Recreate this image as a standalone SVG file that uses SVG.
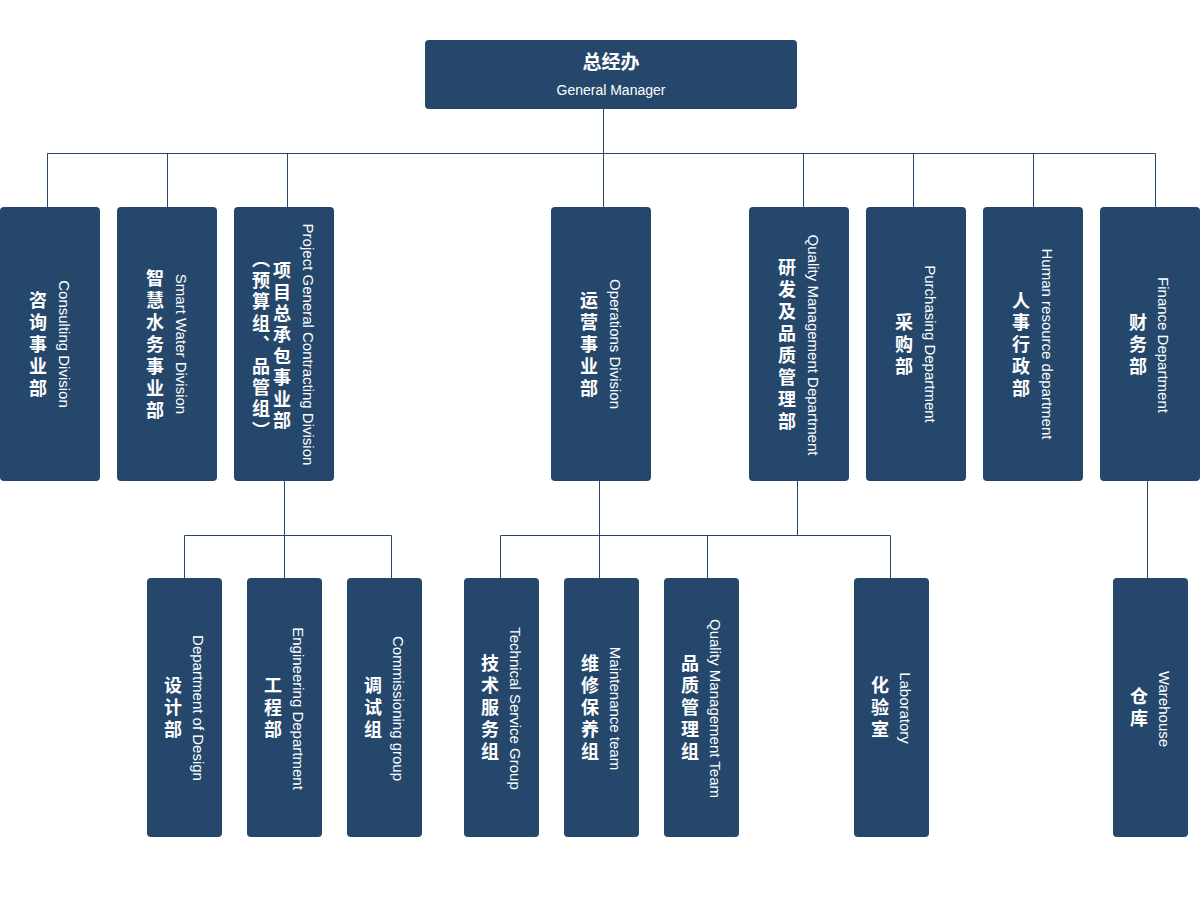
<svg xmlns="http://www.w3.org/2000/svg" width="1200" height="918" viewBox="0 0 1200 918">
<style>
.box{fill:#25476c}
.ln{stroke:#25476c;stroke-width:1;fill:none}
.zh{font-family:"Noto Sans CJK SC","Noto Sans CJK TC",sans-serif;font-weight:bold;font-size:18px;fill:#fff;writing-mode:vertical-rl;text-anchor:middle;letter-spacing:4px}
.zh2{letter-spacing:3.4px}
.en{font-family:"Liberation Sans",Arial,sans-serif;font-size:15px;fill:#fff;text-anchor:middle}
.top1{font-family:"Noto Sans CJK SC",sans-serif;font-weight:bold;font-size:19px;fill:#fff;text-anchor:middle}
.top2{font-family:"Liberation Sans",Arial,sans-serif;font-size:14px;fill:#fff;text-anchor:middle}
</style>
<rect width="1200" height="918" fill="#fff"/>
<g id="connectors" class="ln">
<path d="M603.5,109 V153.5 M47.5,153.5 H1155.5 M47.5,153.5 V207 M167.5,153.5 V207 M287.5,153.5 V207 M603.5,153.5 V207 M803.5,153.5 V207 M913.5,153.5 V207 M1033.5,153.5 V207 M1155.5,153.5 V207"/>
<path d="M284.5,481 V535.5 M184.5,535.5 H391.5 M184.5,535.5 V578 M284.5,535.5 V578 M391.5,535.5 V578"/>
<path d="M599.5,481 V535.5 M797.5,481 V535.5 M500.5,535.5 H890.5 M500.5,535.5 V578 M599.5,535.5 V578 M707.5,535.5 V578 M890.5,535.5 V578"/>
<path d="M1147.5,481 V578"/>
</g>
<g id="gm">
<rect class="box" x="425" y="40" width="372" height="69" rx="4"/>
<text class="top1" x="611" y="69">总经办</text>
<text class="top2" x="611" y="95">General Manager</text>
</g>
<g id="consulting">
<rect class="box" x="0" y="207" width="100" height="274" rx="4"/>
<text class="zh" x="38" y="346.5">咨询事业部</text>
<text class="en" transform="translate(59,344) rotate(90)">Consulting Division</text>
</g>
<g id="smartwater">
<rect class="box" x="117" y="207" width="100" height="274" rx="4"/>
<text class="zh" x="155" y="346.5">智慧水务事业部</text>
<text class="en" transform="translate(176,344) rotate(90)">Smart Water Division</text>
</g>
<g id="project">
<rect class="box" x="234" y="207" width="100" height="274" rx="4"/>
<text class="zh zh2" x="282" y="347">项目总承包事业部</text>
<text class="zh zh2" x="261" y="346">（预算组、品管组）</text>
<text class="en" transform="translate(303,344.5) rotate(90)">Project General Contracting Division</text>
</g>
<g id="operations">
<rect class="box" x="551" y="207" width="100" height="274" rx="4"/>
<text class="zh" x="589" y="346.5">运营事业部</text>
<text class="en" transform="translate(610,344) rotate(90)">Operations Division</text>
</g>
<g id="qmd">
<rect class="box" x="749" y="207" width="100" height="274" rx="4"/>
<text class="zh" x="787" y="346.5">研发及品质管理部</text>
<text class="en" transform="translate(808,345) rotate(90)">Quality Management Department</text>
</g>
<g id="purchasing">
<rect class="box" x="866" y="207" width="100" height="274" rx="4"/>
<text class="zh" x="904" y="346.5">采购部</text>
<text class="en" transform="translate(925,344) rotate(90)">Purchasing Department</text>
</g>
<g id="hr">
<rect class="box" x="983" y="207" width="100" height="274" rx="4"/>
<text class="zh" x="1021" y="346.5">人事行政部</text>
<text class="en" transform="translate(1042,344) rotate(90)">Human resource department</text>
</g>
<g id="finance">
<rect class="box" x="1100" y="207" width="100" height="274" rx="4"/>
<text class="zh" x="1138" y="346.5">财务部</text>
<text class="en" transform="translate(1158,345) rotate(90)">Finance Department</text>
</g>
<g id="design">
<rect class="box" x="147" y="578" width="75" height="259" rx="4"/>
<text class="zh" x="173" y="709.5">设计部</text>
<text class="en" transform="translate(193,708) rotate(90)">Department of Design</text>
</g>
<g id="engineering">
<rect class="box" x="247" y="578" width="75" height="259" rx="4"/>
<text class="zh" x="273" y="709.5">工程部</text>
<text class="en" transform="translate(293,708.5) rotate(90)">Engineering Department</text>
</g>
<g id="commissioning">
<rect class="box" x="347" y="578" width="75" height="259" rx="4"/>
<text class="zh" x="373" y="709.5">调试组</text>
<text class="en" transform="translate(392.5,708.5) rotate(90)">Commissioning group</text>
</g>
<g id="techservice">
<rect class="box" x="464" y="578" width="75" height="259" rx="4"/>
<text class="zh" x="490" y="709.5">技术服务组</text>
<text class="en" transform="translate(510,708.5) rotate(90)">Technical Service Group</text>
</g>
<g id="maintenance">
<rect class="box" x="564" y="578" width="75" height="259" rx="4"/>
<text class="zh" x="590" y="709.5">维修保养组</text>
<text class="en" transform="translate(610,708.5) rotate(90)">Maintenance team</text>
</g>
<g id="qmteam">
<rect class="box" x="664" y="578" width="75" height="259" rx="4"/>
<text class="zh" x="690" y="709.5">品质管理组</text>
<text class="en" transform="translate(710,708.5) rotate(90)">Quality Management Team</text>
</g>
<g id="laboratory">
<rect class="box" x="854" y="578" width="75" height="259" rx="4"/>
<text class="zh" x="880" y="709.5">化验室</text>
<text class="en" transform="translate(899.5,708) rotate(90)">Laboratory</text>
</g>
<g id="warehouse">
<rect class="box" x="1113" y="578" width="75" height="259" rx="4"/>
<text class="zh" x="1139" y="709.5">仓库</text>
<text class="en" transform="translate(1158.5,709) rotate(90)">Warehouse</text>
</g>
</svg>
